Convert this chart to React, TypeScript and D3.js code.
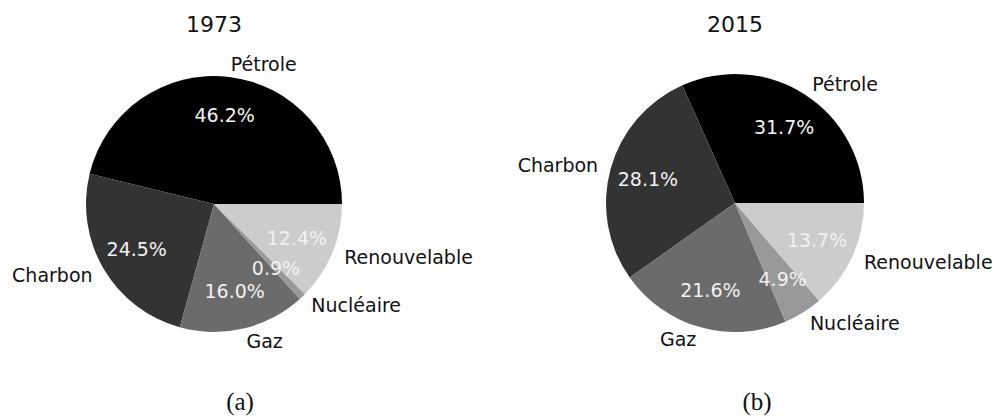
import React from "react";
import * as d3 from "d3";

const categories = ["Pétrole", "Charbon", "Gaz", "Nucléaire", "Renouvelable"];
const values1973 = [46.2, 24.5, 16.0, 0.9, 12.4];
const values2015 = [31.7, 28.1, 21.6, 4.9, 13.7];
const titles = ["1973", "2015"];
const captions = ["(a)", "(b)"];
const sliceColors = ["#000000", "#333333", "#6b6b6b", "#999999", "#cccccc"];

const W = 997;
const H = 419;

type PieProps = { values: number[]; cx: number; cy: number; r: number; title: string; caption: string; capX: number };

function Pie({ values, cx, cy, r, title, caption, capX }: PieProps) {
  const data = categories.map((c, i) => ({ name: c, value: values[i], color: sliceColors[i] }));
  const pie = d3
    .pie<{ name: string; value: number; color: string }>()
    .sort(null)
    .value((d) => d.value)
    .startAngle(Math.PI / 2)
    .endAngle(Math.PI / 2 - 2 * Math.PI);
  const arcs = pie(data);
  const arc = d3.arc<any>().innerRadius(0).outerRadius(r);
  const pctArc = d3.arc<any>().innerRadius(r * 0.7).outerRadius(r * 0.7);
  const labArc = d3.arc<any>().innerRadius(r * 1.1).outerRadius(r * 1.1);
  const font = "DejaVu Sans, sans-serif";
  return (
    <g>
      <text x={cx} y={24} dy="0.35em" textAnchor="middle" fontFamily={font} fontSize={22} fill="#111">
        {title}
      </text>
      <g transform={`translate(${cx},${cy})`}>
        {arcs.map((a, i) => (
          <path key={"s" + i} d={arc(a) || ""} fill={a.data.color} />
        ))}
        {arcs.map((a, i) => {
          const [x, y] = pctArc.centroid(a);
          return (
            <text key={"p" + i} x={x} y={y} dy="0.35em" textAnchor="middle" fontFamily={font} fontSize={19} fill="#f2f2f2">
              {a.data.value.toFixed(1) + "%"}
            </text>
          );
        })}
        {arcs.map((a, i) => {
          const [x, y] = labArc.centroid(a);
          return (
            <text key={"l" + i} x={x} y={y} dy="0.35em" textAnchor={x >= 0 ? "start" : "end"} fontFamily={font} fontSize={19} fill="#111">
              {a.data.name}
            </text>
          );
        })}
      </g>
      <text x={capX} y={402} dy="0.33em" textAnchor="middle" fontFamily="Liberation Serif, serif" fontSize={25} fill="#111">
        {caption}
      </text>
    </g>
  );
}

export default function App() {
  return (
    <svg width={W} height={H} style={{ position: "absolute", left: 0, top: 0, background: "#fff" }}>
      <rect width={W} height={H} fill="#fff" />
      <Pie values={values1973} cx={214} cy={204} r={128} title={titles[0]} caption={captions[0]} capX={240} />
      <Pie values={values2015} cx={735} cy={203} r={129} title={titles[1]} caption={captions[1]} capX={757} />
    </svg>
  );
}
